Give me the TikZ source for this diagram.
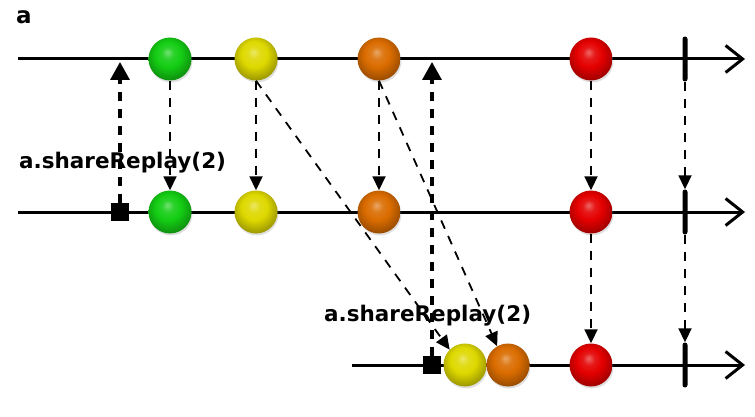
\documentclass[tikz,border=0pt]{standalone}
\usepackage{fontspec}
\setmainfont{DejaVu Sans}
\usetikzlibrary{arrows.meta,shadows}
\definecolor{cgreen}{RGB}{20,205,20}
\definecolor{cyellow}{RGB}{222,216,0}
\definecolor{corange}{RGB}{218,108,0}
\definecolor{cred}{RGB}{228,0,0}
\pgfdeclareradialshading{shgreen}{\pgfpoint{-3bp}{8bp}}{color(0bp)=(cgreen!60!white); color(7bp)=(cgreen!90!white); color(15bp)=(cgreen); color(23bp)=(cgreen!82!black); color(29bp)=(cgreen!68!black); color(50bp)=(cgreen!60!black)}
\pgfdeclareradialshading{shyellow}{\pgfpoint{-3bp}{8bp}}{color(0bp)=(cyellow!60!white); color(7bp)=(cyellow!90!white); color(15bp)=(cyellow); color(23bp)=(cyellow!82!black); color(29bp)=(cyellow!68!black); color(50bp)=(cyellow!60!black)}
\pgfdeclareradialshading{shorange}{\pgfpoint{-3bp}{8bp}}{color(0bp)=(corange!60!white); color(7bp)=(corange!90!white); color(15bp)=(corange); color(23bp)=(corange!82!black); color(29bp)=(corange!68!black); color(50bp)=(corange!60!black)}
\pgfdeclareradialshading{shred}{\pgfpoint{-3bp}{8bp}}{color(0bp)=(cred!60!white); color(7bp)=(cred!90!white); color(15bp)=(cred); color(23bp)=(cred!82!black); color(29bp)=(cred!68!black); color(50bp)=(cred!60!black)}
\tikzset{
  ball/.style={circle, minimum size=43pt, inner sep=0pt,
    drop shadow={opacity=0.25, shadow xshift=1pt, shadow yshift=-2pt}},
  sqbox/.style={rectangle, fill=black, minimum size=18pt, inner sep=0pt},
  endbar/.style={rectangle, fill=black, minimum width=5pt, minimum height=45pt, inner sep=0pt, rounded corners=2.5pt},
  timeline/.style={line width=3pt, -{Straight Barb[length=17pt,width=27pt]}},
  emit/.style={line width=1.8pt, dash pattern=on 9pt off 8pt, -{Triangle[width=13pt,length=14pt]}},
  subarrow/.style={line width=3.5pt, dash pattern=on 9pt off 8pt, -{Triangle[width=19pt,length=18pt]}},
  lbl/.style={font=\fontsize{21.5}{26}\selectfont\bfseries, inner sep=0pt}
}
\begin{document}
\begin{tikzpicture}[x=1pt,y=-1pt]
\useasboundingbox (0,0) rectangle (755,417);
% timelines
\coordinate (L1) at (18,59);  \coordinate (R1) at (745,59);
\coordinate (L2) at (18,212); \coordinate (R2) at (745,212);
\coordinate (L3) at (352,365); \coordinate (R3) at (745,365);
\draw[timeline] (L1) -- (R1);
\draw[timeline] (L2) -- (R2);
\draw[timeline] (L3) -- (R3);
% labels
\node[lbl, font=\fontsize{23}{27}\selectfont\bfseries, anchor=base west] (la) at (16,24) {a};
\node[lbl, anchor=base west] (lb) at (19,168) {a.shareReplay(2)};
\node[lbl, anchor=base west] (lc) at (324,321) {a.shareReplay(2)};
% top
\node[ball, shading=shgreen]  (g1) at (170,59) {};
\node[ball, shading=shyellow] (y1) at (256,59) {};
\node[ball, shading=shorange] (o1) at (379,59) {};
\node[ball, shading=shred]    (r1) at (591,59) {};
\node[endbar] (e1) at (685,59) {};
% middle
\node[sqbox] (s2) at (120,212) {};
\node[ball, shading=shgreen]  (g2) at (170,212) {};
\node[ball, shading=shyellow] (y2) at (256,212) {};
\node[ball, shading=shorange] (o2) at (379,212) {};
\node[ball, shading=shred]    (r2) at (591,212) {};
\node[endbar] (e2) at (685,212) {};
% bottom
\node[sqbox] (s3) at (432,365) {};
\node[ball, shading=shyellow] (y3) at (465,365) {};
\node[ball, shading=shorange] (o3) at (508,365) {};
\node[ball, shading=shred]    (r3) at (591,365) {};
\node[endbar] (e3) at (685,365) {};
% subscriptions
\coordinate (t1) at (120,62);
\coordinate (t2) at (432,62);
\draw[subarrow] (s2) -- (t1);
\draw[subarrow] (s3) -- (t2);
% emissions
\draw[emit] (g1) -- (g2);
\draw[emit] (y1) -- (y2);
\draw[emit] (o1) -- (o2);
\draw[emit] (r1) -- (r2);
\draw[emit] (e1) -- (e2);
\draw[emit] (r2) -- (r3);
\draw[emit] (e2) -- (e3);
\draw[emit] (y1.south) -- (y3.135);
\draw[emit] (o1.south) -- (o3.120);
\end{tikzpicture}
\end{document}
